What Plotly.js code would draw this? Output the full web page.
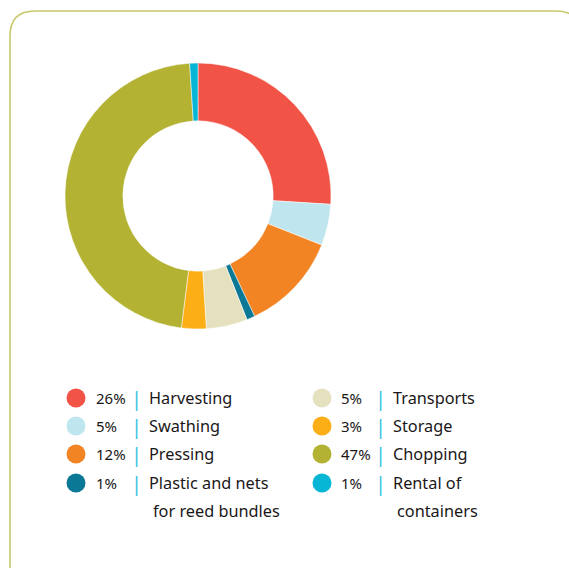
<!DOCTYPE html>
<html>
<head>
<meta charset="utf-8">
<script src="https://cdn.plot.ly/plotly-3.0.1.min.js"></script>
<style>html,body{margin:0;padding:0;background:#fff;}#chart{width:569px;height:568px;}</style>
</head>
<body>
<div id="chart"></div>
<script>
const labels = ['Harvesting', 'Swathing', 'Pressing', 'Plastic and nets\nfor reed bundles', 'Transports', 'Storage', 'Chopping', 'Rental of\ncontainers'];
const values = [26, 5, 12, 1, 5, 3, 47, 1];
const percentLabels = ['26%', '5%', '12%', '1%', '5%', '3%', '47%', '1%'];
const colors = ['#f15446', '#bfe5ee', '#f28423', '#0b7896', '#e5e1bf', '#fcae17', '#b3b233', '#07b5d5'];

const W = 569, H = 568;
const textColor = '#1a1718';
const font = 'Noto Sans, Open Sans, sans-serif';

// legend layout (pixel coordinates)
const cols = [
  {circle: 76, pct: 94, sep: 136, label: 147},
  {circle: 322, pct: 339, sep: 380, label: 391}
];
const rowY = [398, 426, 454, 483];
const lineGap = 28;

const mx = [], my = [];
const annotations = [];
labels.forEach((lab, i) => {
  const c = cols[Math.floor(i / 4)];
  const y = rowY[i % 4];
  mx.push(c.circle); my.push(y);
  annotations.push({x: c.pct, y: y, xref: 'x', yref: 'y', text: percentLabels[i], showarrow: false,
    xanchor: 'left', yanchor: 'middle', font: {family: font, size: 15, color: textColor}});
  annotations.push({x: c.sep, y: y, xref: 'x', yref: 'y', text: '|', showarrow: false,
    xanchor: 'center', yanchor: 'middle', font: {family: font, size: 20, color: '#3ec3dd'}});
  lab.split('\n').forEach((ln, k) => {
    annotations.push({x: c.label + (k ? 4 : 0), y: y + k * lineGap, xref: 'x', yref: 'y', text: ln, showarrow: false,
      xanchor: 'left', yanchor: 'middle', font: {family: font, size: 16.3, color: textColor}});
  });
});

const pie = {
  type: 'pie',
  values: values,
  labels: labels.map(l => l.replace('\n', ' ')),
  marker: {colors: colors, line: {color: '#ffffff', width: 0.5}},
  sort: false,
  direction: 'clockwise',
  rotation: 0,
  hole: 0.565,
  textinfo: 'none',
  hoverinfo: 'label+percent',
  showlegend: false,
  domain: {x: [65 / W, 331 / W], y: [1 - 329 / H, 1 - 63 / H]}
};

const dots = {
  type: 'scatter', mode: 'markers', x: mx, y: my,
  marker: {size: 19, color: colors, line: {width: 0}},
  hoverinfo: 'skip', showlegend: false, cliponaxis: false
};

const layout = {
  width: W, height: H,
  margin: {l: 0, r: 0, t: 0, b: 0},
  paper_bgcolor: '#ffffff', plot_bgcolor: 'rgba(0,0,0,0)',
  xaxis: {range: [0, W], visible: false, fixedrange: true, domain: [0, 1]},
  yaxis: {range: [H, 0], visible: false, fixedrange: true, domain: [0, 1]},
  showlegend: false,
  annotations: annotations,
  shapes: [{
    type: 'path', xref: 'x', yref: 'y',
    path: 'M 10,600 L 10,36 Q 10,11 35,11 L 556,11 Q 581,11 581,36 L 581,600',
    line: {color: '#c9c86b', width: 1.6}, fillcolor: 'rgba(0,0,0,0)', layer: 'below'
  }]
};

Plotly.newPlot('chart', [pie, dots], layout, {displayModeBar: false, staticPlot: true});
</script>
</body>
</html>
